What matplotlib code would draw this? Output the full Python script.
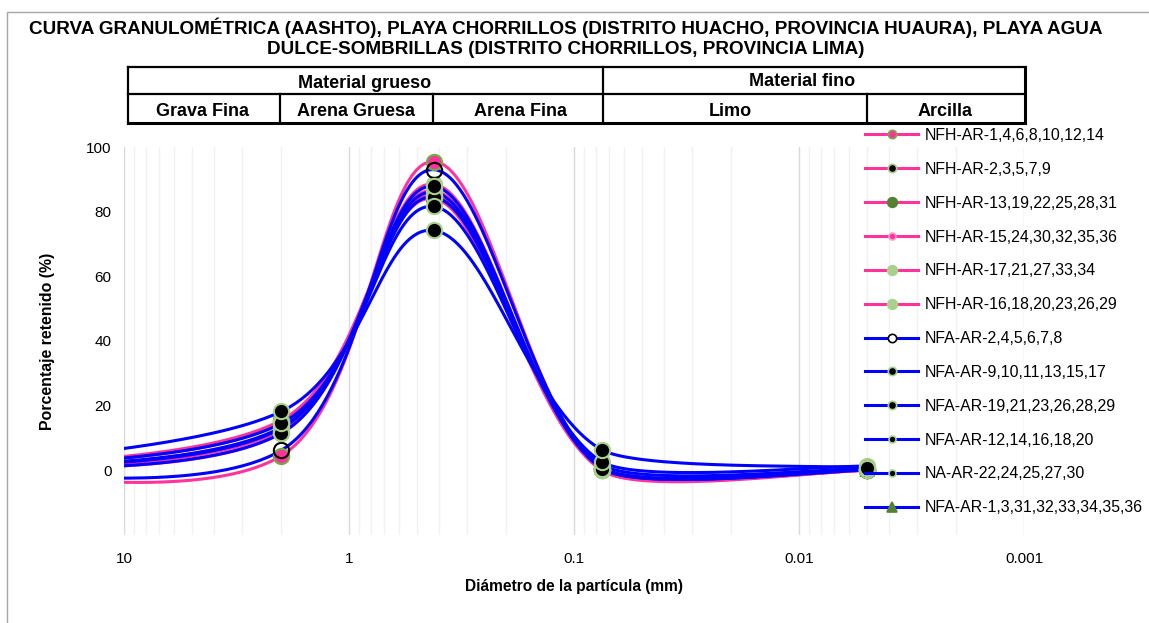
import numpy as np
import matplotlib.pyplot as plt
from matplotlib.lines import Line2D
from matplotlib.patches import Rectangle

plt.rcParams['font.family'] = ['Liberation Sans', 'DejaVu Sans']

# tamices (mm): 3", N°10, N°40, N°200, 0.005 mm
diametros = [75.0, 2.0, 0.42, 0.075, 0.005]

nombres = ['NFH-AR-1,4,6,8,10,12,14', 'NFH-AR-2,3,5,7,9', 'NFH-AR-13,19,22,25,28,31',
           'NFH-AR-15,24,30,32,35,36', 'NFH-AR-17,21,27,33,34', 'NFH-AR-16,18,20,23,26,29',
           'NFA-AR-2,4,5,6,7,8', 'NFA-AR-9,10,11,13,15,17', 'NFA-AR-19,21,23,26,28,29',
           'NFA-AR-12,14,16,18,20', 'NA-AR-22,24,25,27,30', 'NFA-AR-1,3,31,32,33,34,35,36']

# porcentaje retenido en cada tamiz
ret_75 = [0, 0, 0, 0, 0, 0, 0, 0, 0, 0, 0, 0]
ret_2 = [4.5, 12.5, 15.5, 15.0, 11.5, 14.8, 6.2, 13.3, 11.5, 14.5, 18.2, 13.0]
ret_042 = [95.5, 86.5, 84.0, 85.0, 88.5, 85.0, 93.0, 84.5, 87.8, 81.6, 74.2, 86.0]
ret_0075 = [0.0, 0.8, 0.3, 0.0, 0.0, 0.2, 0.8, 1.7, 0.5, 2.6, 6.3, 0.8]
ret_0005 = [0.0, 0.2, 0.2, 0.0, 0.0, 0.0, 0.0, 0.5, 0.2, 1.3, 0.8, 0.2]

rosa = '#FF3399'
azul = '#0000FF'
verde_claro = '#A9D18E'
verde = '#548235'
colores = [rosa] * 6 + [azul] * 6
marcadores = [
    dict(marker='o', mfc=rosa, mec='#70AD47'),
    dict(marker='o', mfc='black', mec=verde_claro),
    dict(marker='o', mfc=verde, mec=verde),
    dict(marker='o', mfc=rosa, mec='#FF99CC'),
    dict(marker='o', mfc=verde_claro, mec=verde_claro),
    dict(marker='o', mfc=verde_claro, mec=verde_claro),
    dict(marker='o', mfc='none', mec='black'),
    dict(marker='o', mfc='black', mec=verde_claro),
    dict(marker='o', mfc='black', mec=verde_claro),
    dict(marker='o', mfc='black', mec=verde_claro),
    dict(marker='o', mfc='black', mec=verde_claro),
    dict(marker='^', mfc=verde, mec=verde),
]
tam_leyenda = [6, 6, 7, 5, 7, 7, 6, 6, 6, 5, 5, 7]

# tension del suavizado en cada tramo
tension = [1 / 6, 1 / 6, 1 / 6, 1 / 12]


def suavizado(x, y, n=80):
    # curva suavizada (Bezier con tangentes de Catmull-Rom) en escala log
    p = np.column_stack([np.log10(x), y])
    e = np.vstack([p[0], p, p[-1]])
    t = np.linspace(0, 1, n)[:, None]
    tramos = []
    for i in range(len(p) - 1):
        p0, p1, p2, p3 = e[i], e[i + 1], e[i + 2], e[i + 3]
        c1 = p1 + (p2 - p0) * tension[i]
        c2 = p2 - (p3 - p1) / 6
        tramos.append((1 - t) ** 3 * p1 + 3 * (1 - t) ** 2 * t * c1
                      + 3 * (1 - t) * t ** 2 * c2 + t ** 3 * p2)
    c = np.vstack(tramos)
    return 10 ** c[:, 0], c[:, 1]


W, H = 1149, 623
fig = plt.figure(figsize=(W / 100, H / 100), dpi=100)
ax = fig.add_axes([124 / W, 1 - 535 / H, 900 / W, 388 / H])

for i in range(len(nombres)):
    y = [ret_75[i], ret_2[i], ret_042[i], ret_0075[i], ret_0005[i]]
    xs, ys = suavizado(diametros, y)
    ax.plot(xs, ys, color=colores[i], lw=2.2, zorder=2, solid_capstyle='round')
for i in range(len(nombres)):
    y = [ret_75[i], ret_2[i], ret_042[i], ret_0075[i], ret_0005[i]]
    m = marcadores[i]
    ms = 8 if m['marker'] == '^' else 11
    ax.plot(diametros, y, ls='none', marker=m['marker'], mfc=m['mfc'], mec=m['mec'],
            ms=ms, mew=1.5, zorder=3 if i != 11 else 2.5)

ax.set_xscale('log')
ax.set_xlim(10, 0.001)
ax.set_ylim(-20, 100)
ax.set_yticks([0, 20, 40, 60, 80, 100])
ax.set_xticks([10, 1, 0.1, 0.01, 0.001])
ax.set_xticklabels(['10', '1', '0.1', '0.01', '0.001'])
ax.grid(True, which='major', axis='x', color='#D9D9D9', lw=1)
ax.grid(True, which='minor', axis='x', color='#F2F2F2', lw=1)
ax.tick_params(which='both', length=0, labelsize=11)
ax.tick_params(axis='y', pad=9)
ax.tick_params(axis='x', pad=12)
for s in ax.spines.values():
    s.set_visible(False)
ax.set_ylabel('Porcentaje retenido (%)', fontsize=11.4, fontweight='bold', labelpad=22)
ax.set_xlabel('Diámetro de la partícula (mm)', fontsize=11.2, fontweight='bold', labelpad=9.5)

# leyenda
handles = [Line2D([], [], color=colores[i], lw=2.2, marker=marcadores[i]['marker'],
                  mfc='white' if marcadores[i]['mfc'] == 'none' else marcadores[i]['mfc'],
                  mec=marcadores[i]['mec'], ms=tam_leyenda[i], mew=1.2)
           for i in range(len(nombres))]
fig.legend(handles, nombres, loc='upper left', bbox_to_anchor=(865 / W, 1 - 128 / H),
           frameon=False, fontsize=11.4, handlelength=3.35, handletextpad=0.4,
           labelspacing=1.19, borderpad=0, borderaxespad=0)

# titulo
fig.text(566 / W, 1 - 37.5 / H,
         'CURVA GRANULOMÉTRICA (AASHTO), PLAYA CHORRILLOS (DISTRITO HUACHO, PROVINCIA HUAURA), PLAYA AGUA\n'
         'DULCE-SOMBRILLAS (DISTRITO CHORRILLOS, PROVINCIA LIMA)',
         ha='center', va='center', fontsize=13.6, fontweight='bold', linespacing=1.25)


# tabla de clasificacion de material
def linea(x0, y0, x1, y1, lw=1.6):
    fig.add_artist(Line2D([x0 / W, x1 / W], [1 - y0 / H, 1 - y1 / H], color='black', lw=lw))


linea(128, 67, 1025, 67)
linea(128, 94, 1025, 94)
linea(128, 123, 1025, 123, lw=2.2)
linea(128, 67, 128, 123)
linea(1025, 67, 1025, 123, lw=2.2)
linea(603, 67, 603, 123)
linea(280, 94, 280, 123)
linea(433, 94, 433, 123)
linea(867, 94, 867, 123)

celdas = [('Material grueso', 365, 83), ('Material fino', 802, 82),
          ('Grava Fina', 203, 112), ('Arena Gruesa', 356, 112), ('Arena Fina', 521, 111),
          ('Limo', 730, 112), ('Arcilla', 945, 111)]
for txt, cx, cy in celdas:
    fig.text(cx / W, 1 - cy / H, txt, ha='center', va='center', fontsize=13, fontweight='bold')

# marco del grafico
fig.add_artist(Rectangle((7 / W, -0.1), 1.2, 1 - 12 / H + 0.1, fill=False,
                         edgecolor='#A6A6A6', lw=1, transform=fig.transFigure))

fig.savefig('out.png', dpi=100)
